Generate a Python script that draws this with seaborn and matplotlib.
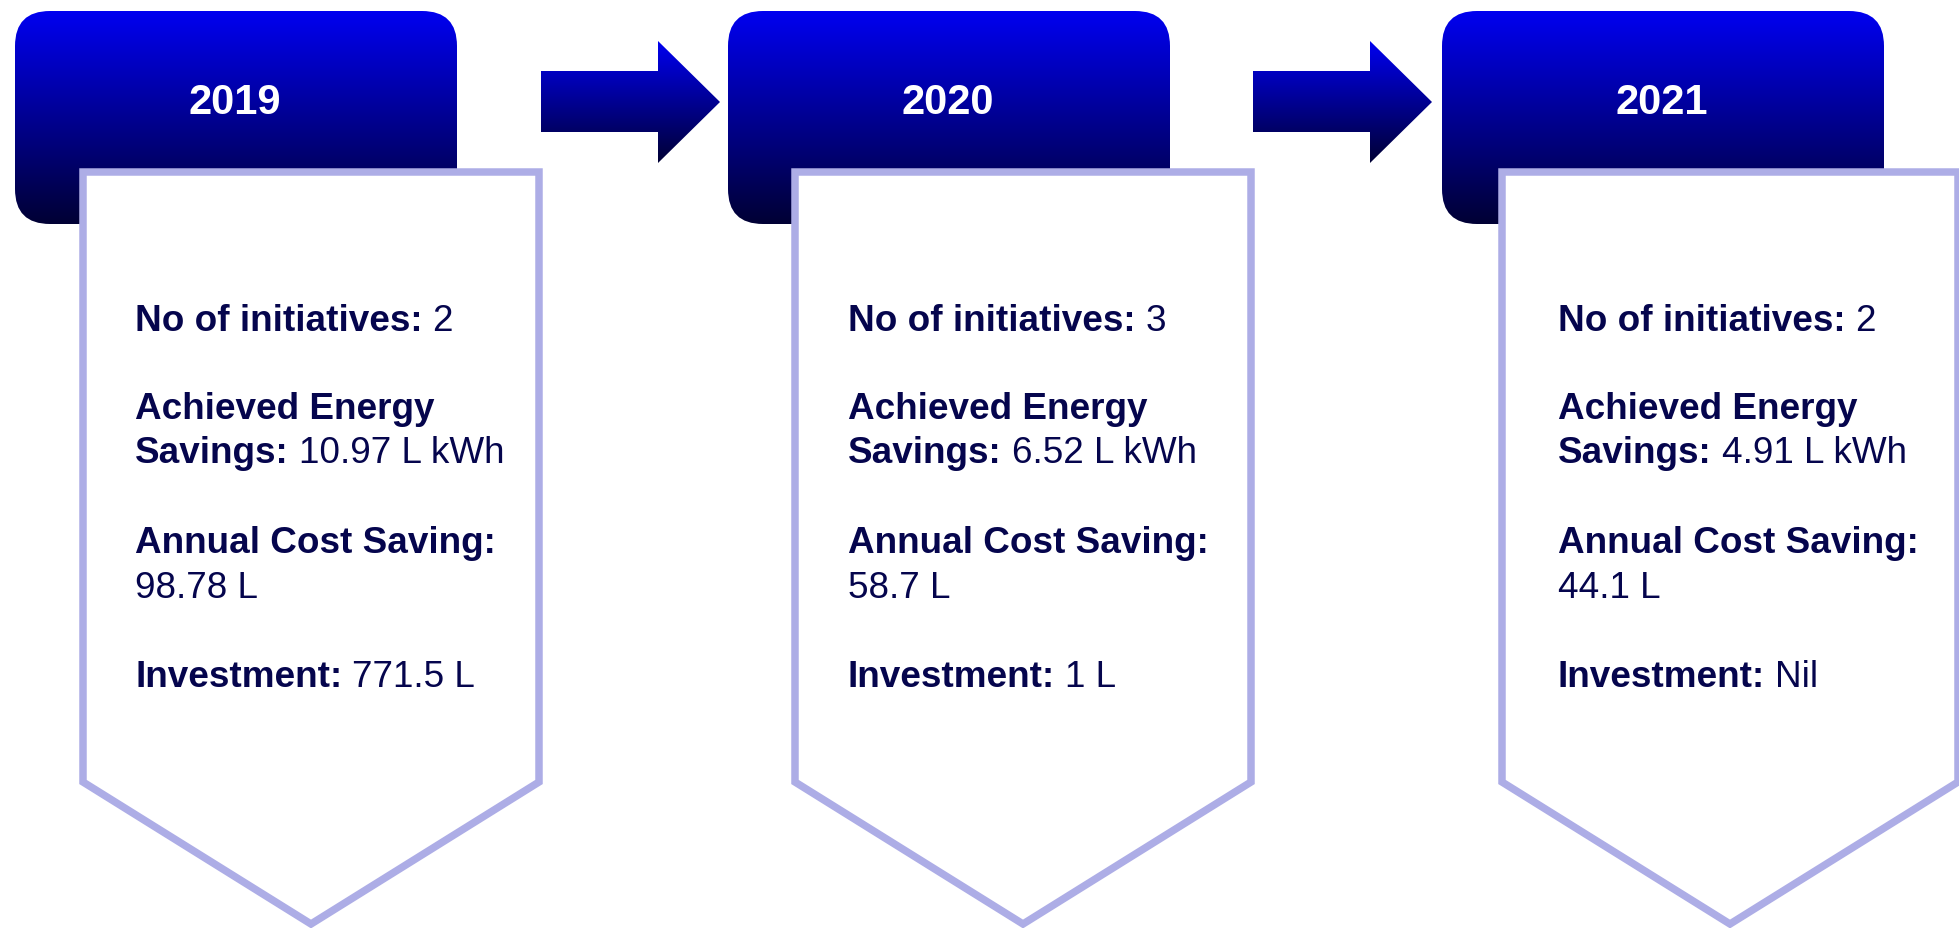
import numpy as np
import matplotlib
matplotlib.use("Agg")
import matplotlib.pyplot as plt
import seaborn as sns
from matplotlib.patches import FancyBboxPatch, Polygon
from matplotlib.colors import LinearSegmentedColormap

# timeline content
years = ["2019", "2020", "2021"]
initiatives = ["2", "3", "2"]
energy_savings = ["10.97 L kWh", "6.52 L kWh", "4.91 L kWh"]
cost_savings = ["98.78 L", "58.7 L", "44.1 L"]
investments = ["771.5 L", "1 L", "Nil"]

sns.set_theme(style="white")
plt.rcParams["font.family"] = ["Liberation Sans", "DejaVu Sans"]

W, H = 1959, 929
text_color = "#05054d"
edge_color = "#adade6"
blue_grad = LinearSegmentedColormap.from_list("hdr", ["#0000f0", "#000034"])
gradient = np.linspace(0, 1, 256).reshape(-1, 1)

fig = plt.figure(figsize=(W / 100, H / 100), dpi=100)
ax = fig.add_axes([0, 0, 1, 1])
ax.axis("off")


def gradient_patch(patch, x0, x1, y0, y1):
    ax.add_patch(patch)
    im = ax.imshow(gradient, cmap=blue_grad, extent=(x0, x1, y1, y0),
                   aspect="auto", zorder=1, interpolation="bilinear")
    im.set_clip_path(patch)


header_lefts = [15, 728, 1442]
card_lefts = [83, 795, 1502]
text_lefts = [135, 848, 1558]

for i, year in enumerate(years):
    # header box with vertical gradient
    hx, hy, hw, hh = header_lefts[i], 12, 442, 213
    header = FancyBboxPatch((hx, hy), hw, hh, boxstyle="round,pad=0,rounding_size=35",
                            facecolor="none", edgecolor="none", zorder=1)
    gradient_patch(header, hx, hx + hw, hy, hy + hh)
    ax.text(hx + hw / 2 - 1, 103, year, color="white", fontsize=30, fontweight="bold",
            ha="center", va="center", zorder=3)

    # pentagon card
    left = card_lefts[i]
    right = left + 456
    card = Polygon([(left, 173), (right, 173), (right, 783),
                    ((left + right) / 2, 925), (left, 783)], closed=True,
                   facecolor="white", edgecolor=edge_color, linewidth=5.4,
                   joinstyle="miter", zorder=2)
    ax.add_patch(card)

    # arrow to next year
    if i < len(years) - 1:
        sx = 541 + i * 712
        hxa, tx = sx + 117, sx + 179
        arrow = Polygon([(sx, 72), (hxa, 72), (hxa, 42), (tx, 103), (hxa, 164),
                         (hxa, 133), (sx, 133)], closed=True,
                        facecolor="none", edgecolor="none", zorder=1)
        gradient_patch(arrow, sx, tx, 42, 164)

ax.set_xlim(0, W)
ax.set_ylim(H, 0)

renderer = fig.canvas.get_renderer()
for i in range(len(years)):
    tx = text_lefts[i]
    lines = [
        (331, "No of initiatives:", initiatives[i]),
        (419, "Achieved Energy", ""),
        (463, "Savings:", energy_savings[i]),
        (553, "Annual Cost Saving:", ""),
        (598, "", cost_savings[i]),
        (687, "Investment:", investments[i]),
    ]
    for y, label, value in lines:
        x = tx
        if label:
            t = ax.text(x, y, label, color=text_color, fontsize=26.6, fontweight="bold",
                        ha="left", va="baseline", zorder=3)
            bb = t.get_window_extent(renderer)
            x = tx + bb.width + 10
        if value:
            ax.text(x, y, value, color=text_color, fontsize=26.6,
                    ha="left", va="baseline", zorder=3)

fig.savefig("out.png", dpi=100, facecolor="white")
